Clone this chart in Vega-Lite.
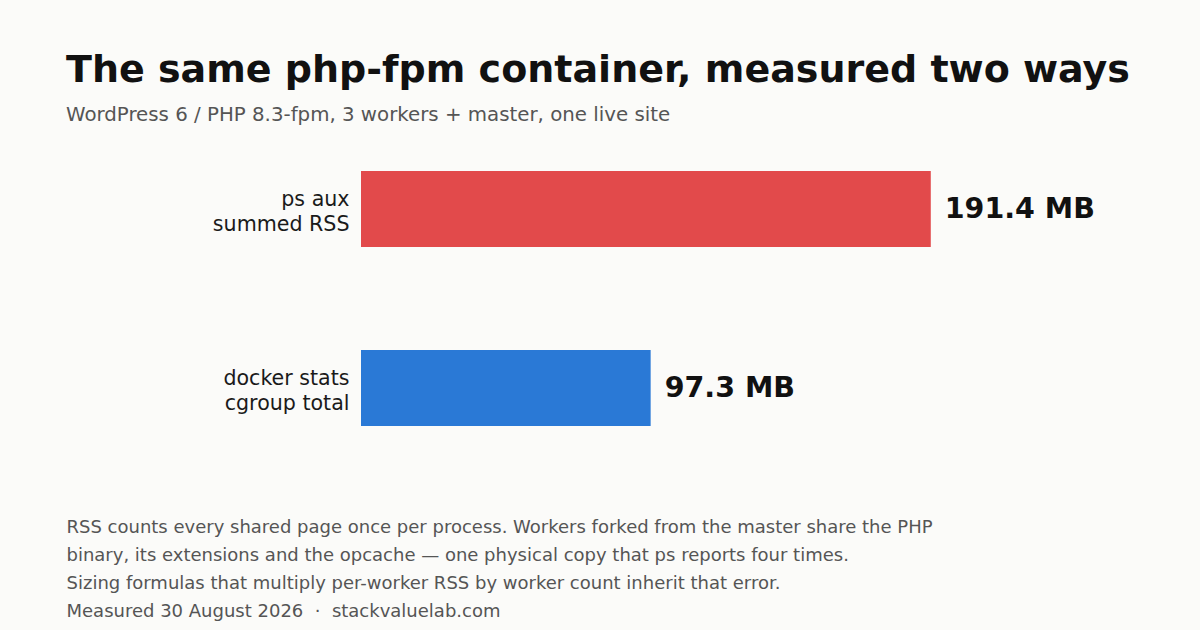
{
  "$schema": "https://vega.github.io/schema/vega-lite/v6.json",
  "autosize": {"type": "none"},
  "width": 774,
  "height": 297,
  "padding": {"left": 361, "top": 150, "right": 65, "bottom": 183},
  "background": "#fbfbf9",
  "title": {
    "text": "The same php-fpm container, measured two ways",
    "subtitle": "WordPress 6 / PHP 8.3-fpm, 3 workers + master, one live site",
    "anchor": "start",
    "frame": "group",
    "dx": -295,
    "offset": 25,
    "font": "DejaVu Sans",
    "fontSize": 38,
    "fontWeight": "bold",
    "color": "#111111",
    "subtitleFont": "DejaVu Sans",
    "subtitleFontSize": 19.8,
    "subtitleColor": "#555555",
    "subtitlePadding": 15
  },
  "data": {
    "values": [
      {"method": "ps aux\nsummed RSS", "mb": 191.4},
      {"method": "docker stats\ncgroup total", "mb": 97.3}
    ]
  },
  "transform": [
    {"calculate": "format(datum.mb, '.1f') + ' MB'", "as": "shown"}
  ],
  "encoding": {
    "y": {
      "field": "method",
      "type": "nominal",
      "sort": null,
      "scale": {"paddingInner": 0.575, "paddingOuter": 0.117},
      "axis": {
        "title": null,
        "domain": false,
        "ticks": false,
        "labelPadding": 12,
        "labelFont": "DejaVu Sans",
        "labelFontSize": 20.6,
        "labelColor": "#1a1a1a",
        "labelLineHeight": 25,
        "labelOffset": -9,
        "labelExpr": "split(datum.label, '\\n')"
      }
    },
    "x": {
      "field": "mb",
      "type": "quantitative",
      "scale": {"domain": [0, 260], "nice": false},
      "axis": {
        "domain": false,
        "ticks": false,
        "labels": false,
        "grid": false,
        "title": [
          "RSS counts every shared page once per process. Workers forked from the master share the PHP",
          "binary, its extensions and the opcache — one physical copy that ps reports four times.",
          "Sizing formulas that multiply per-worker RSS by worker count inherit that error.",
          "Measured 30 August 2026\u00a0\u00a0·\u00a0\u00a0stackvaluelab.com"
        ],
        "titleFont": "DejaVu Sans",
        "titleFontSize": 18,
        "titleFontWeight": "normal",
        "titleColor": "#555555",
        "titleAlign": "left",
        "titleBaseline": "alphabetic",
        "titleLineHeight": 28,
        "titleX": -295,
        "titleY": 85
      }
    }
  },
  "layer": [
    {
      "mark": {"type": "bar"},
      "encoding": {
        "color": {
          "field": "method",
          "type": "nominal",
          "scale": {"domain": ["ps aux\nsummed RSS", "docker stats\ncgroup total"], "range": ["#e24a4b", "#2a79d6"]},
          "legend": null
        }
      }
    },
    {
      "mark": {"type": "text", "align": "left", "baseline": "middle", "dx": 14, "font": "DejaVu Sans", "fontSize": 28.5, "fontWeight": "bold", "color": "#111111"},
      "encoding": {
        "text": {"field": "shown", "type": "nominal"}
      }
    }
  ],
  "config": {
    "view": {"stroke": null}
  }
}
